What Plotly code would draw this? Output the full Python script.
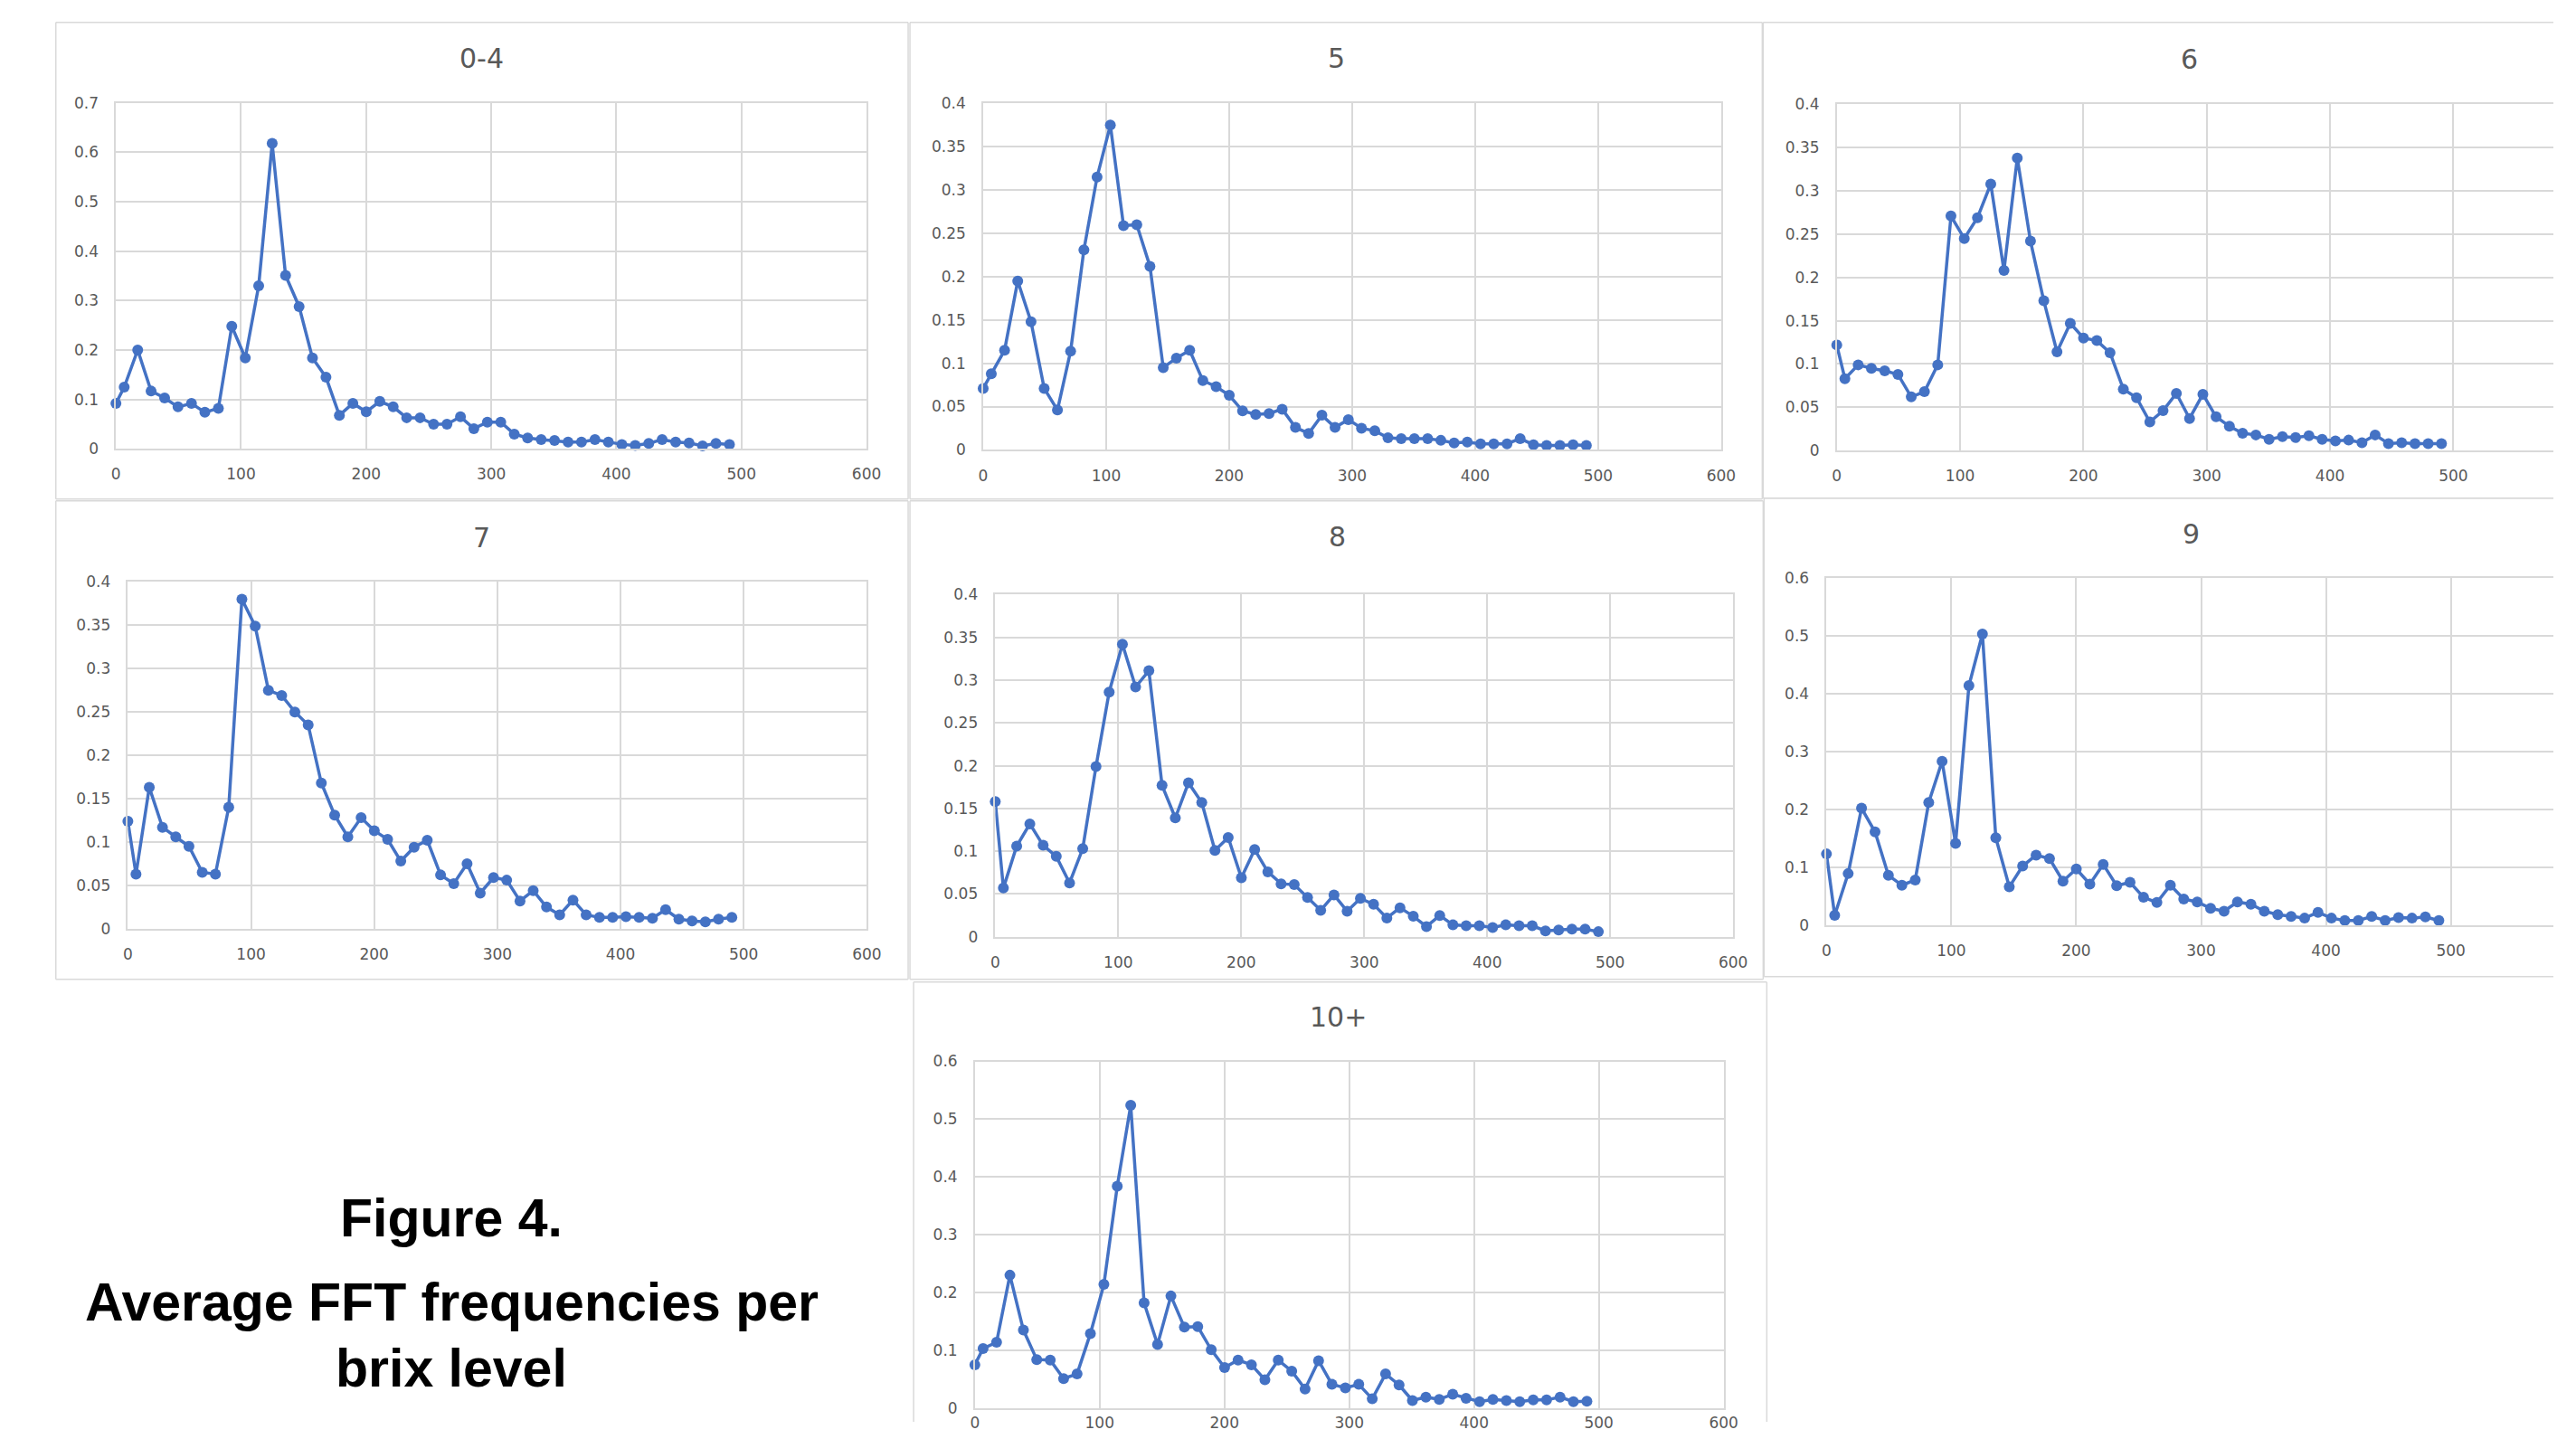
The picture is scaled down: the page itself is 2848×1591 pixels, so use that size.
import plotly.graph_objects as go

PAGE_W, PAGE_H = 2848, 1591
OFF = 8                       # default page margin around the plot div
W, H = PAGE_W - 2 * OFF, PAGE_H - 2 * OFF

# measured page -> picture mapping (picture = S * page + B), compensated below
SX, BX = 0.9933, 3.3
SY, BY = 0.9873, 9.3

# ---------------- data ----------------
freq = [0, 6.6, 17.4, 28.1, 38.9, 49.6, 60.4, 71.1, 81.9, 92.6, 103.4, 114.1, 124.9,
        135.6, 146.4, 157.1, 167.9, 178.6, 189.4, 200.1, 210.9, 221.6, 232.4, 243.1,
        253.9, 264.6, 275.4, 286.1, 296.9, 307.6, 318.4, 329.1, 339.9, 350.6, 361.4,
        372.1, 382.9, 393.6, 404.4, 415.1, 425.9, 436.6, 447.4, 458.1, 468.9, 479.6, 490.4]

brix_levels = ["0-4", "5", "6", "7", "8", "9", "10+"]

amp_0_4 = [0.092, 0.125, 0.200, 0.117, 0.103, 0.085, 0.092, 0.074, 0.082, 0.248, 0.184,
           0.330, 0.618, 0.351, 0.288, 0.184, 0.145, 0.068, 0.092, 0.075, 0.096, 0.085,
           0.063, 0.063, 0.050, 0.050, 0.065, 0.041, 0.054, 0.054, 0.030, 0.022, 0.019,
           0.017, 0.014, 0.014, 0.019, 0.014, 0.009, 0.007, 0.011, 0.019, 0.014, 0.012,
           0.006, 0.011, 0.009]
amp_5 = [0.071, 0.088, 0.115, 0.195, 0.148, 0.071, 0.046, 0.114, 0.231, 0.315, 0.375,
         0.259, 0.260, 0.212, 0.095, 0.106, 0.115, 0.080, 0.073, 0.063, 0.045, 0.041,
         0.042, 0.047, 0.026, 0.019, 0.040, 0.026, 0.035, 0.025, 0.022, 0.014, 0.013,
         0.013, 0.013, 0.011, 0.008, 0.009, 0.007, 0.007, 0.007, 0.013, 0.006, 0.005,
         0.005, 0.006, 0.005]
amp_6 = [0.122, 0.083, 0.099, 0.095, 0.092, 0.088, 0.062, 0.068, 0.099, 0.271, 0.245,
         0.269, 0.308, 0.208, 0.338, 0.242, 0.173, 0.114, 0.147, 0.130, 0.127, 0.113,
         0.071, 0.061, 0.033, 0.046, 0.066, 0.037, 0.065, 0.039, 0.028, 0.020, 0.018,
         0.013, 0.016, 0.015, 0.017, 0.013, 0.011, 0.012, 0.009, 0.018, 0.008, 0.009,
         0.008, 0.008, 0.008]
amp_7 = [0.124, 0.063, 0.163, 0.117, 0.106, 0.095, 0.065, 0.063, 0.140, 0.380, 0.349,
         0.275, 0.269, 0.250, 0.235, 0.168, 0.131, 0.106, 0.128, 0.113, 0.103, 0.078,
         0.094, 0.102, 0.062, 0.052, 0.075, 0.041, 0.059, 0.056, 0.032, 0.044, 0.025,
         0.016, 0.033, 0.016, 0.013, 0.013, 0.014, 0.013, 0.012, 0.022, 0.011, 0.009,
         0.008, 0.011, 0.013]
amp_8 = [0.158, 0.057, 0.106, 0.132, 0.107, 0.094, 0.063, 0.103, 0.199, 0.286, 0.342,
         0.292, 0.311, 0.177, 0.139, 0.180, 0.157, 0.101, 0.116, 0.069, 0.102, 0.076,
         0.062, 0.061, 0.046, 0.031, 0.049, 0.030, 0.045, 0.038, 0.022, 0.034, 0.024,
         0.012, 0.025, 0.014, 0.013, 0.013, 0.011, 0.014, 0.013, 0.013, 0.007, 0.008,
         0.009, 0.009, 0.006]
amp_9 = [0.123, 0.017, 0.089, 0.202, 0.161, 0.086, 0.069, 0.078, 0.212, 0.283, 0.141,
         0.414, 0.503, 0.151, 0.066, 0.102, 0.121, 0.115, 0.076, 0.097, 0.071, 0.105,
         0.068, 0.074, 0.048, 0.039, 0.069, 0.045, 0.040, 0.029, 0.024, 0.040, 0.036,
         0.024, 0.018, 0.015, 0.012, 0.022, 0.012, 0.008, 0.008, 0.015, 0.008, 0.013,
         0.012, 0.014, 0.008]
amp_10p = [0.075, 0.103, 0.114, 0.230, 0.135, 0.084, 0.083, 0.051, 0.059, 0.129, 0.214,
           0.384, 0.524, 0.182, 0.110, 0.194, 0.140, 0.141, 0.101, 0.070, 0.083, 0.075,
           0.049, 0.083, 0.064, 0.033, 0.082, 0.041, 0.035, 0.041, 0.016, 0.059, 0.040,
           0.013, 0.019, 0.015, 0.024, 0.017, 0.011, 0.015, 0.013, 0.011, 0.014, 0.014,
           0.019, 0.011, 0.012]

series = [amp_0_4, amp_5, amp_6, amp_7, amp_8, amp_9, amp_10p]
y_max = [0.7, 0.4, 0.4, 0.4, 0.4, 0.6, 0.6]
y_step = [0.1, 0.05, 0.05, 0.05, 0.05, 0.1, 0.1]
x_max = 600

caption_lines = ["Figure 4.", "Average FFT frequencies per", "brix level"]

# ---------------- layout geometry (target pixels in the picture) ----------------
panels = [
    dict(plot=(126.5, 957, 113, 495.5), frame=(60, 1003, 24, 551), title=(531, 64), xstand=12),
    dict(plot=(1086, 1902.5, 113.6, 496.6), frame=(1005, 1948, 24, 551), title=(1477, 64), xstand=12),
    dict(plot=(2030.4, 2849, 114.6, 497.3), frame=(1949, 9999, 24, 550), title=(2420, 65), xstand=12),
    dict(plot=(139.7, 957.3, 642.6, 1026), frame=(60, 1003, 553, 1082), title=(531, 594), xstand=12),
    dict(plot=(1099.4, 1915.8, 656.5, 1035), frame=(1005, 1949, 553, 1082), title=(1478, 593), xstand=12),
    dict(plot=(2019, 2848, 638.2, 1022), frame=(1950, 9999, 550, 1079), title=(2422, 590), xstand=12),
    dict(plot=(1076.8, 1905.3, 1172.7, 1556), frame=(1009, 1953, 1085, 9999), title=(1479, 1124), xstand=0),
]

BLUE = "#4472C4"
GRID = "#D9D9D9"
TICK = "#595959"
FONT = "DejaVu Sans"

RIGHT_T = (OFF + W - 1) * SX + BX     # last picture column covered by the figure
BOTTOM_T = (OFF + H - 1) * SY + BY    # last picture row covered by the figure


def fx(t):
    return ((t - BX) / SX - OFF) / W


def fy(t):
    return 1 - ((t - BY) / SY - OFF) / H


fig = go.Figure()
layout = dict(
    width=W, height=H,
    margin=dict(l=0, r=0, t=0, b=0),
    paper_bgcolor="white", plot_bgcolor="white",
    showlegend=False,
    shapes=[], annotations=[],
)


def seg(xa, ya, xb, yb):
    return dict(type="line", xref="paper", yref="paper",
                x0=fx(xa), y0=fy(ya), x1=fx(xb), y1=fy(yb),
                line=dict(color=GRID, width=1.5), layer="below")


for i, (p, ys, name) in enumerate(zip(panels, series, brix_levels)):
    n = "" if i == 0 else str(i + 1)
    x0, x1, yt, yb = p["plot"]
    clipped = x1 > RIGHT_T
    if clipped:
        xr = x_max * (RIGHT_T - x0) / (x1 - x0)
        dom_r = fx(RIGHT_T)
    else:
        xr = x_max
        dom_r = fx(x1)
    fig.add_trace(go.Scatter(
        x=freq, y=ys, mode="lines+markers", name=name,
        line=dict(color=BLUE, width=3.5),
        marker=dict(color=BLUE, size=12),
        xaxis="x" + n, yaxis="y" + n, cliponaxis=False,
    ))
    layout["xaxis" + n] = dict(
        domain=[fx(x0), min(dom_r, 1.0)], anchor="y" + n,
        range=[0, xr], tick0=0, dtick=100,
        showgrid=True, gridcolor=GRID, gridwidth=1.5,
        showline=True, mirror=True, linecolor=GRID, linewidth=1.5,
        zeroline=False, ticks="", ticklabelstandoff=p["xstand"],
        tickfont=dict(family=FONT, size=17, color=TICK),
    )
    layout["yaxis" + n] = dict(
        domain=[fy(yb), fy(yt)], anchor="x" + n,
        range=[0, y_max[i]], tick0=0, dtick=y_step[i],
        showgrid=True, gridcolor=GRID, gridwidth=1.5,
        showline=True, mirror=not clipped, linecolor=GRID, linewidth=1.5,
        zeroline=False, ticks="", ticklabelstandoff=14,
        tickfont=dict(family=FONT, size=17, color=TICK),
    )
    # panel frame, only the sides that lie inside the picture
    f0, f1, g0, g1 = p["frame"]
    r = min(f1, RIGHT_T)
    b = min(g1, BOTTOM_T)
    layout["shapes"].append(seg(f0, g0, r, g0))
    layout["shapes"].append(seg(f0, g0, f0, b))
    if f1 < RIGHT_T:
        layout["shapes"].append(seg(f1, g0, f1, b))
    if g1 < BOTTOM_T:
        layout["shapes"].append(seg(f0, g1, r, g1))
    tx, ty = p["title"]
    layout["annotations"].append(dict(
        text=name, xref="paper", yref="paper", x=fx(tx), y=fy(ty),
        xanchor="center", yanchor="middle", showarrow=False,
        font=dict(family=FONT, size=30, color=TICK),
    ))

for txt, cy in zip(caption_lines, [1346, 1439, 1512]):
    layout["annotations"].append(dict(
        text="<b>" + txt + "</b>", xref="paper", yref="paper",
        x=fx(498), y=fy(cy), xanchor="center", yanchor="middle",
        showarrow=False,
        font=dict(family="Liberation Sans", size=59, color="black"),
    ))

fig.update_layout(**layout)
fig.write_html("out.html", config={"displayModeBar": False})
